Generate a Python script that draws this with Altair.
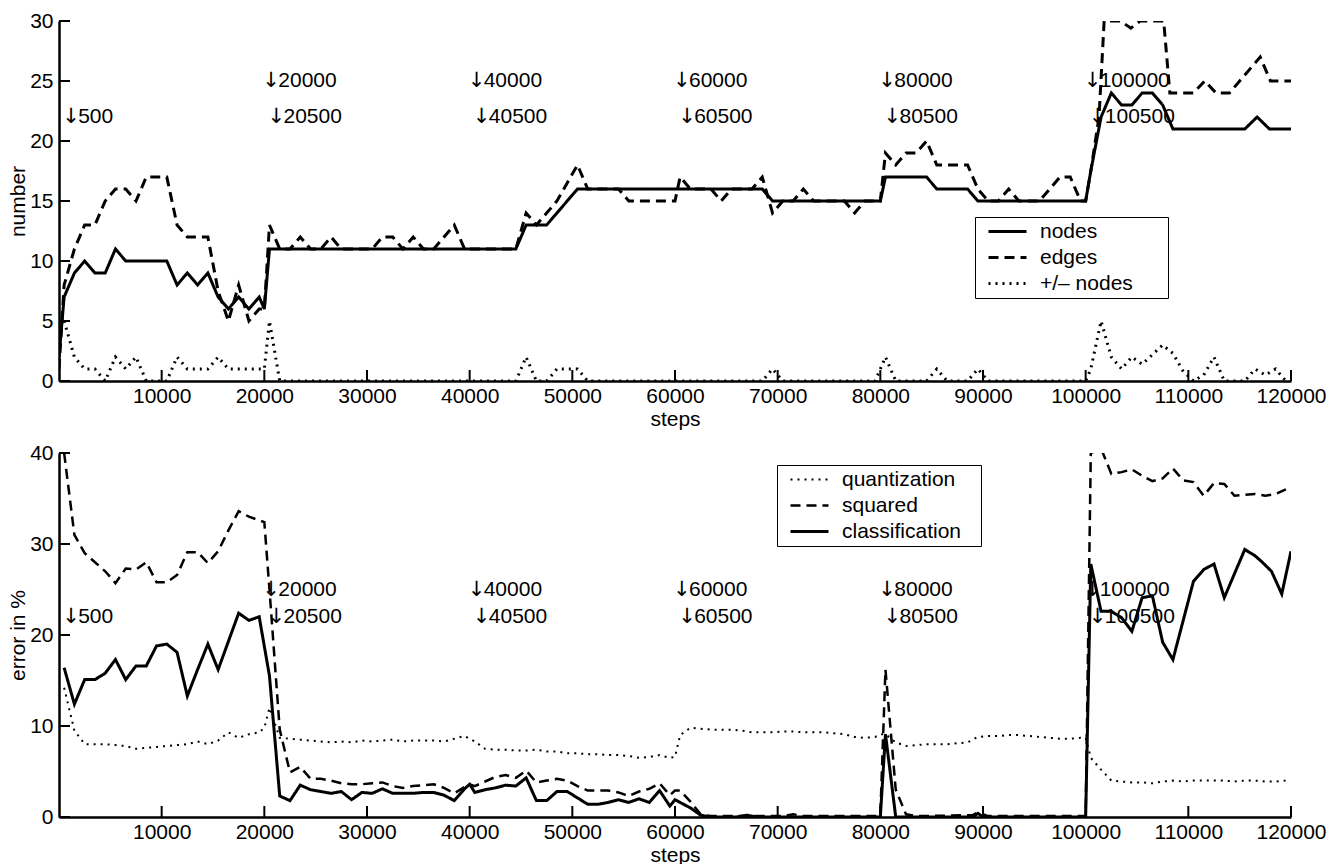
import altair as alt
import pandas as pd

FONT = "Liberation Sans, Arial, DejaVu Sans"
ARROW_FONT = "DejaVu Sans"
FS = 21

# ---------------- top panel: (step, value) pairs ----------------
NODES = [(0, 2), (500, 7), (1500, 9), (2500, 10), (3500, 9), (4500, 9), (5500, 11), (6500, 10),
         (10500, 10), (11500, 8), (12500, 9), (13500, 8), (14500, 9), (15500, 7), (16500, 6),
         (17500, 7), (18500, 6), (19500, 7), (20000, 6), (20500, 11), (44500, 11), (45500, 13),
         (47500, 13), (50500, 16), (68500, 16), (69500, 15), (80000, 15), (80500, 17), (84500, 17),
         (85500, 16), (88500, 16), (89500, 15), (100000, 15), (100500, 17.5), (101500, 22),
         (102500, 24), (103500, 23), (104500, 23), (105500, 24), (106500, 24), (107500, 23),
         (108500, 21), (115500, 21), (116700, 22), (117900, 21), (120000, 21)]

EDGES = [(0, 1), (500, 8), (1500, 11), (2500, 13), (3500, 13), (4500, 15), (5500, 16), (6500, 16),
         (7500, 15), (8500, 17), (9500, 17), (10500, 17), (11500, 13), (12500, 12), (13500, 12),
         (14500, 12), (15500, 7.5), (16500, 5), (17500, 8), (18500, 5), (19500, 6), (20000, 6),
         (20500, 13), (21500, 11), (22500, 11), (23500, 12), (24500, 11), (25500, 11), (26500, 12),
         (27500, 11), (30500, 11), (31500, 12), (32500, 12), (33500, 11), (34500, 12), (35500, 11),
         (36500, 11), (37500, 12), (38500, 13), (39500, 11), (44500, 11), (45500, 14), (46500, 13),
         (47500, 14), (48500, 15), (49500, 16.5), (50500, 18), (51500, 16), (54500, 16), (55500, 15),
         (60000, 15), (60500, 17), (61500, 16), (63500, 16), (64500, 15), (65500, 16), (67500, 16),
         (68500, 17), (69500, 14), (70500, 15), (71500, 15), (72500, 16), (73500, 15), (76500, 15),
         (77500, 14), (78500, 15), (80000, 15), (80500, 19), (81500, 18), (82500, 19), (83500, 19),
         (84500, 20), (85500, 18), (88500, 18), (89500, 16), (90500, 15), (91500, 15), (92500, 16),
         (93500, 15), (95500, 15), (96500, 16), (97500, 17), (98500, 17), (99500, 15), (100000, 15),
         (100500, 17.5), (101300, 22), (101800, 30), (103400, 30), (104400, 29.4), (105300, 30),
         (107600, 30), (108200, 24), (110500, 24), (111600, 25), (112700, 24), (114000, 24),
         (115000, 25), (117000, 27), (118000, 25), (120000, 25)]

PLUSMINUS = [(500, 5), (1500, 2), (2500, 1), (3500, 1), (4500, 0), (5500, 2), (6500, 1), (7500, 2),
             (8500, 0), (10500, 0), (11500, 2), (12500, 1), (13500, 1), (14500, 1), (15500, 2),
             (16500, 1), (17500, 1), (18500, 1), (19500, 1), (20000, 1), (20500, 5), (21500, 0),
             (44500, 0), (45500, 2), (46500, 0), (47500, 0), (48500, 1), (49500, 1), (50500, 1),
             (51500, 0), (68500, 0), (69500, 1), (70500, 0), (79500, 0), (80500, 2), (81500, 0),
             (84500, 0), (85500, 1), (86500, 0), (88500, 0), (89500, 1), (90500, 0), (100000, 0),
             (100500, 1), (101500, 5), (102500, 2), (103500, 1), (104500, 2), (105500, 1.4),
             (106500, 2.2), (107500, 3), (108500, 2.3), (109500, 0.8), (110500, 0), (111500, 0.5),
             (112500, 2), (113500, 0), (115500, 0), (116500, 1), (117500, 0.5), (118500, 1),
             (119500, 0)]

# ---------------- bottom panel ----------------
QUANTIZATION = [(500, 14.2), (1500, 9.5), (2500, 8.0), (3500, 8.0), (4500, 8.0), (5500, 7.9),
                (6500, 7.8), (7500, 7.5), (8500, 7.6), (9500, 7.7), (10500, 7.8), (11500, 7.9),
                (12500, 8.0), (13500, 8.3), (14500, 8.0), (15500, 8.4), (16500, 9.3), (17500, 8.7),
                (18500, 9.1), (19500, 9.3), (20000, 9.8), (20500, 12.0), (21500, 8.7), (22500, 8.6),
                (23500, 8.5), (24500, 8.4), (25500, 8.3), (26500, 8.2), (27500, 8.3), (28500, 8.2),
                (29500, 8.4), (30500, 8.3), (31500, 8.4), (32500, 8.5), (33500, 8.3), (34500, 8.4),
                (35500, 8.4), (36500, 8.4), (37500, 8.3), (38500, 8.6), (39500, 8.9), (40500, 8.3),
                (41500, 7.5), (42500, 7.4), (43500, 7.4), (44500, 7.3), (45500, 7.3), (46500, 7.4),
                (47500, 7.2), (48500, 7.2), (49500, 7.0), (50500, 7.0), (51500, 6.9), (52500, 6.9),
                (53500, 6.8), (54500, 6.8), (55500, 6.7), (56500, 6.5), (57500, 6.6), (58500, 6.8),
                (59500, 6.5), (60000, 6.6), (60500, 9.0), (61500, 9.8), (62500, 9.7), (63500, 9.6),
                (64500, 9.6), (65500, 9.6), (66500, 9.5), (67500, 9.3), (68500, 9.3), (69500, 9.3),
                (70500, 9.4), (71500, 9.4), (72500, 9.3), (73500, 9.3), (74500, 9.3), (75500, 9.2),
                (76500, 9.1), (77500, 8.8), (78500, 8.7), (79500, 8.8), (80000, 9.1), (80500, 9.1),
                (81500, 8.2), (82500, 7.8), (83500, 7.9), (84500, 8.0), (85500, 8.0), (86500, 8.0),
                (87500, 8.1), (88500, 8.2), (89500, 8.8), (90500, 8.9), (91500, 8.9), (92500, 9.0),
                (93500, 9.0), (94500, 8.9), (95500, 8.8), (96500, 8.7), (97500, 8.6), (98500, 8.6),
                (99500, 8.7), (100000, 8.7), (100500, 6.5), (101500, 5.2), (102500, 4.0),
                (103500, 3.9), (104500, 3.8), (105500, 3.8), (106500, 3.7), (107500, 3.9),
                (108500, 4.0), (109500, 3.9), (110500, 4.0), (111500, 4.0), (112500, 4.0),
                (113500, 4.0), (114500, 3.9), (115500, 4.0), (116500, 4.0), (117500, 3.9),
                (118500, 3.9), (119500, 4.0)]

SQUARED = [(500, 40), (1500, 31), (2500, 29), (3500, 28), (4500, 27), (5500, 25.7), (6500, 27.3),
           (7500, 27.2), (8500, 28), (9500, 25.8), (10500, 25.8), (11500, 26.6), (12500, 29.1),
           (13500, 29.1), (14500, 27.9), (15500, 29.2), (16500, 31.5), (17500, 33.6), (18500, 33.0),
           (19500, 32.6), (20000, 32.4), (20500, 25), (21500, 9.6), (22500, 4.9), (23500, 5.5),
           (24500, 4.2), (25500, 4.2), (26500, 4.0), (27500, 3.7), (28500, 3.6), (29500, 3.6),
           (30500, 3.7), (31500, 3.8), (32500, 3.4), (33500, 3.2), (34500, 3.4), (35500, 3.5),
           (36500, 3.6), (37500, 3.2), (38500, 2.6), (39500, 3.3), (40000, 3.6), (40500, 3.4),
           (41500, 3.9), (42500, 4.4), (43500, 4.6), (44500, 4.3), (45500, 5.1), (46500, 3.8),
           (47500, 4.0), (48500, 4.2), (49500, 4.0), (50500, 3.4), (51500, 2.9), (52500, 2.9),
           (53500, 2.9), (54500, 2.7), (55500, 2.3), (56500, 2.8), (57500, 3.1), (58500, 3.7),
           (59500, 2.4), (60000, 2.9), (60500, 2.9), (61500, 1.7), (62500, 0.3), (63500, 0.1),
           (70500, 0.1), (71500, 0.3), (72500, 0.1), (79500, 0.1), (80000, 0.2), (80500, 16.2),
           (81500, 3.0), (82500, 0.3), (83500, 0.1), (89000, 0.2), (89500, 0.5), (90500, 0.1),
           (99500, 0.1), (100000, 0.1), (100500, 40), (101500, 40.5), (102500, 37.7), (103500, 37.9),
           (104500, 38.2), (105500, 37.5), (106500, 36.9), (107500, 37.2), (108500, 38.3),
           (109500, 37.0), (110500, 36.8), (111500, 35.3), (112500, 36.7), (113500, 36.6),
           (114500, 35.3), (115500, 35.4), (116500, 35.5), (117500, 35.3), (118500, 35.5),
           (119500, 36.0)]

CLASSIFICATION = [(500, 16.4), (1500, 12.4), (2500, 15.1), (3500, 15.1), (4500, 15.8), (5500, 17.3),
                  (6500, 15.1), (7500, 16.6), (8500, 16.6), (9500, 18.8), (10500, 19.0), (11500, 18.1),
                  (12500, 13.3), (13500, 16.2), (14500, 19.0), (15500, 16.2), (16500, 19.3),
                  (17500, 22.4), (18500, 21.6), (19500, 22.0), (20500, 15.5), (21500, 2.3),
                  (22500, 1.8), (23500, 3.5), (24500, 3.0), (25500, 2.8), (26500, 2.6), (27500, 2.8),
                  (28500, 1.9), (29500, 2.7), (30500, 2.6), (31500, 3.1), (32500, 2.6), (33500, 2.6),
                  (34500, 2.6), (35500, 2.7), (36500, 2.7), (37500, 2.4), (38500, 1.8), (39500, 3.1),
                  (40000, 3.6), (40500, 2.7), (41500, 3.0), (42500, 3.2), (43500, 3.5), (44500, 3.4),
                  (45500, 4.3), (46500, 1.8), (47500, 1.8), (48500, 2.8), (49500, 2.8), (50500, 2.1),
                  (51500, 1.4), (52500, 1.4), (53500, 1.6), (54500, 1.9), (55500, 1.6), (56500, 2.0),
                  (57500, 1.6), (58500, 2.9), (59500, 1.2), (60000, 1.9), (60500, 1.6), (61500, 1.0),
                  (62500, 0.2), (63500, 0), (66000, 0), (67000, 0.2), (68000, 0), (80000, 0),
                  (80500, 9.1), (81500, 0), (89000, 0), (89500, 0.4), (90000, 0), (100000, 0),
                  (100500, 27.8), (101500, 22.6), (102500, 22.6), (103500, 21.9), (104500, 20.4),
                  (105500, 24.1), (106500, 24.3), (107500, 19.2), (108500, 17.3), (110500, 25.9),
                  (111500, 27.2), (112500, 27.8), (113500, 24.1), (115500, 29.4), (116500, 28.7),
                  (117200, 28.0), (118100, 27.0), (119100, 24.5), (120000, 29.2)]

TOP_NAMES = ["nodes", "edges", "+/\u2013 nodes"]
BOTTOM_NAMES = ["quantization", "squared", "classification"]

X_TICKS = [10000, 20000, 30000, 40000, 50000, 60000, 70000, 80000, 90000, 100000, 110000, 120000]
TOP_Y_TICKS = [0, 5, 10, 15, 20, 25, 30]
BOTTOM_Y_TICKS = [0, 10, 20, 30, 40]

ANNOT_STEPS = [500, 20000, 20500, 40000, 40500, 60000, 60500, 80000, 80500, 100000, 100500]
ANNOT_LEVELS = [22, 25, 22, 25, 22, 25, 22, 25, 22, 25, 22]

PLOT_W = 1232


def series_frame(pairs):
    rows = []
    for name, pts in pairs:
        for s, v in pts:
            rows.append({"steps": s, "value": v, "series": name})
    return pd.DataFrame(rows)


top_df = series_frame([(TOP_NAMES[0], NODES), (TOP_NAMES[1], EDGES), (TOP_NAMES[2], PLUSMINUS)])
bottom_df = series_frame([(BOTTOM_NAMES[0], QUANTIZATION), (BOTTOM_NAMES[1], SQUARED),
                          (BOTTOM_NAMES[2], CLASSIFICATION)])
annot_df = pd.DataFrame({"steps": ANNOT_STEPS, "value": ANNOT_LEVELS,
                         "arrow": ["\u2193"] * len(ANNOT_STEPS),
                         "label": [str(s) for s in ANNOT_STEPS]})


def panel(df, names, dashes, widths, y_max, y_ticks, y_title, lx, ly, height, pad_chars):
    xs = alt.Scale(domain=[0, 120000], nice=False, zero=False)
    ys = alt.Scale(domain=[0, y_max], nice=False, zero=False)
    x_axis = alt.Axis(values=X_TICKS, title="steps", format="d", labelFlush=False,
                      labelOverlap=False, ticks=False, tickSize=0, labelPadding=4,
                      titlePadding=2)
    y_axis = alt.Axis(values=y_ticks, title=y_title, format="d", labelFlush=False,
                      labelOverlap=False, ticks=False, tickSize=0, labelPadding=6,
                      titlePadding=1)
    lines = alt.Chart(df).mark_line(clip=True, color="black").encode(
        x=alt.X("steps:Q", scale=xs, axis=x_axis),
        y=alt.Y("value:Q", scale=ys, axis=y_axis),
        strokeDash=alt.StrokeDash(
            "series:N", scale=alt.Scale(domain=names, range=dashes),
            legend=alt.Legend(orient="none", legendX=lx, legendY=ly, title=None,
                              labelExpr="datum.label + '" + "\u2800" * pad_chars + "'")),
        strokeWidth=alt.StrokeWidth("series:O", scale=alt.Scale(domain=names, range=widths),
                                    legend=None),
    )
    xticks = alt.Chart(pd.DataFrame({"steps": X_TICKS})).mark_rule(
        color="black", strokeWidth=2).encode(
        x=alt.X("steps:Q", scale=xs, axis=x_axis),
        y=alt.value(height - 11), y2=alt.value(height))
    yticks = alt.Chart(pd.DataFrame({"value": y_ticks})).mark_rule(
        color="black", strokeWidth=2).encode(
        y=alt.Y("value:Q", scale=ys, axis=y_axis),
        x=alt.value(0), x2=alt.value(11))
    arrows = alt.Chart(annot_df).mark_text(
        align="left", baseline="middle", font=ARROW_FONT, fontSize=FS, color="black",
        dx=-2).encode(
        x=alt.X("steps:Q", scale=xs, axis=x_axis),
        y=alt.Y("value:Q", scale=ys, axis=y_axis),
        text="arrow:N")
    texts = alt.Chart(annot_df).mark_text(
        align="left", baseline="middle", font=FONT, fontSize=FS, color="black",
        dx=14).encode(
        x=alt.X("steps:Q", scale=xs, axis=x_axis),
        y=alt.Y("value:Q", scale=ys, axis=y_axis),
        text="label:N")
    return alt.layer(lines, xticks, yticks, arrows, texts).properties(width=PLOT_W, height=height)


top = panel(top_df, TOP_NAMES, [[1, 0], [10, 6], [2, 5]], [3, 3, 2], 30, TOP_Y_TICKS,
            "number", 916, 196, 360, 2)
bottom = panel(bottom_df, BOTTOM_NAMES, [[2, 5], [10, 6], [1, 0]], [2, 3, 3], 40, BOTTOM_Y_TICKS,
               "error in %", 718, 12, 364, 1)

chart = alt.vconcat(top, bottom, spacing=72, bounds="flush").resolve_scale(
    strokeDash="independent", strokeWidth="independent"
).resolve_legend(
    strokeDash="independent", strokeWidth="independent"
).properties(
    padding={"left": 7, "top": 10, "right": 5, "bottom": 0},
    background="white",
).configure_view(stroke=None).configure_axis(
    labelFont=FONT, labelFontSize=FS, labelColor="black",
    titleFont=FONT, titleFontSize=FS, titleFontWeight="normal", titleColor="black",
    domainColor="black", domainWidth=2.5, grid=False,
).configure_legend(
    symbolType="stroke", symbolSize=1444, symbolStrokeWidth=2.5, symbolStrokeColor="black",
    labelFont=FONT, labelFontSize=FS, labelColor="black", labelOffset=12, symbolOffset=8,
    padding=4, rowPadding=4, clipHeight=21, strokeColor="black", fillColor="white",
)

chart.save("out.html", embed_options={"renderer": "svg", "actions": False})
